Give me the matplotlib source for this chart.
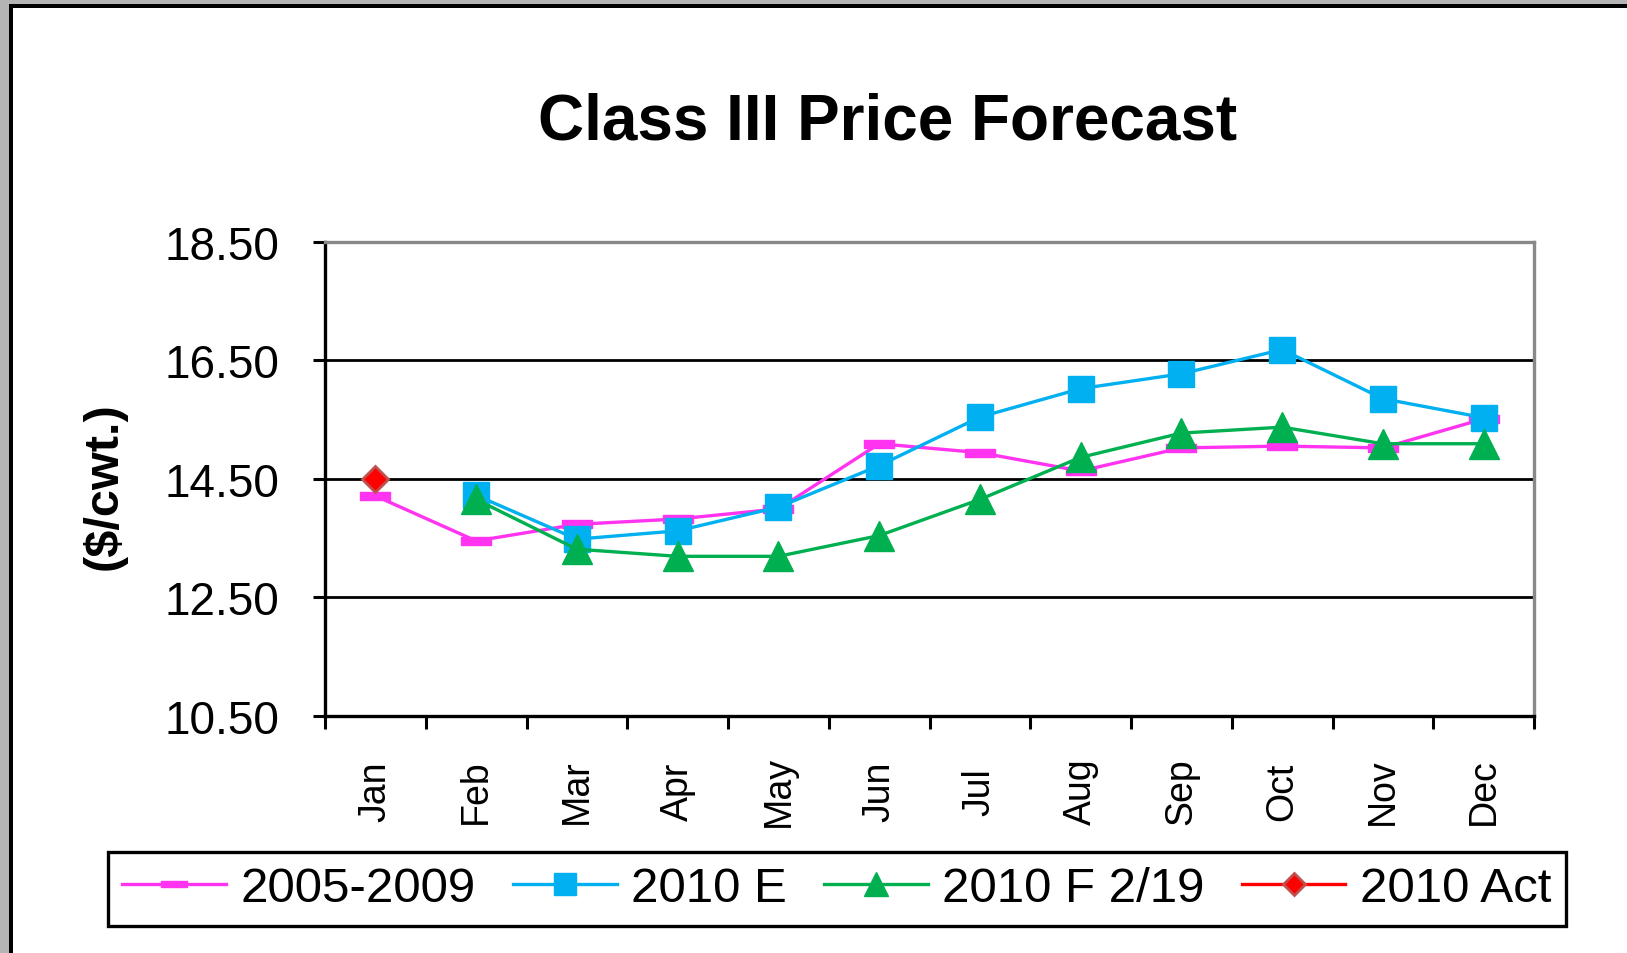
import numpy as np
import matplotlib
matplotlib.use("Agg")
import matplotlib.pyplot as plt
from matplotlib.patches import Rectangle

plt.rcParams['font.family'] = ['Liberation Sans', 'DejaVu Sans']

months = ['Jan', 'Feb', 'Mar', 'Apr', 'May', 'Jun', 'Jul', 'Aug', 'Sep', 'Oct', 'Nov', 'Dec']
avg_2005_2009 = [14.21, 13.45, 13.73, 13.82, 13.99, 15.09, 14.94, 14.63, 15.02, 15.05, 15.02, 15.51]
est_2010 = [np.nan, 14.22, 13.48, 13.62, 14.02, 14.72, 15.54, 16.02, 16.27, 16.68, 15.85, 15.53]
fcst_2010_0219 = [np.nan, 14.15, 13.31, 13.19, 13.19, 13.54, 14.15, 14.86, 15.27, 15.37, 15.09, 15.09]
act_2010 = [14.50] + [np.nan] * 11
series_labels = ['2005-2009', '2010 E', '2010 F 2/19', '2010 Act']
yticks = [10.5, 12.5, 14.5, 16.5, 18.5]

W, H = 1627, 954
fig = plt.figure(figsize=(W / 100, H / 100), dpi=100)
fig.patch.set_facecolor('white')

# outer frame
fig.patches.append(Rectangle((0, 1 - 5 / H), 1, 5 / H, transform=fig.transFigure,
                             facecolor='#b4b4b4', edgecolor='none', zorder=-5))
fig.patches.append(Rectangle((0, 0), 9 / W, 1, transform=fig.transFigure,
                             facecolor='#b4b4b4', edgecolor='none', zorder=-5))
fig.patches.append(Rectangle((9 / W, 1 - 8.5 / H), 1, 3.5 / H, transform=fig.transFigure,
                             facecolor='black', edgecolor='none', zorder=-4))
fig.patches.append(Rectangle((9 / W, 0), 3.5 / W, 1 - 5 / H, transform=fig.transFigure,
                             facecolor='black', edgecolor='none', zorder=-4))

left, right = 325 / W, 1534 / W
top, bottom = 1 - 242.7 / H, 1 - 716.7 / H
ax = fig.add_axes([left, bottom, right - left, top - bottom])

x = np.arange(len(months))
rect_marker = [(-2, -0.5), (2, -0.5), (2, 0.5), (-2, 0.5), (-2, -0.5)]

ax.plot(x, avg_2005_2009, color='#ff33f0', lw=2.4, marker=rect_marker, ms=22,
        mfc='#ff33f0', mec='#ff33f0', label=series_labels[0], zorder=3)
ax.plot(x, est_2010, color='#00b0f0', lw=2.4, marker='s', ms=19,
        mfc='#00b0f0', mec='#00b0f0', label=series_labels[1], zorder=4)
ax.plot(x, fcst_2010_0219, color='#00b050', lw=2.4, marker='^', ms=21,
        mfc='#00b050', mec='#00b050', label=series_labels[2], zorder=5)
ax.plot(x, act_2010, color='#ff0000', lw=2.4, marker='D', ms=13,
        mfc='#ff0000', mec='#c0504d', mew=2.0, label=series_labels[3], zorder=6)

ax.set_xlim(-0.5, 11.5)
ax.set_ylim(10.5, 18.5)
ax.set_yticks(yticks)
ax.set_yticklabels(['%.2f' % v for v in yticks], fontsize=33)
ax.tick_params(axis='y', direction='out', length=9, width=2.2, pad=24, colors='black')

ax.set_xticks(np.arange(-0.5, 12, 1))
ax.set_xticklabels([])
ax.tick_params(axis='x', which='major', direction='out', length=9.5, width=2.2)
ax.set_xticks(x, minor=True)
ax.set_xticklabels(months, minor=True, rotation=90, fontsize=27)
ax.tick_params(axis='x', which='minor', length=0, pad=54)
for lab in ax.get_xticklabels(minor=True):
    lab.set_verticalalignment('center')

ax.grid(axis='y', color='black', lw=2.0)
ax.set_axisbelow(True)

for s in ['left', 'bottom']:
    ax.spines[s].set_color('black')
    ax.spines[s].set_linewidth(2.4)
for s in ['top', 'right']:
    ax.spines[s].set_color('#888888')
    ax.spines[s].set_linewidth(2.4)

fig.text(888 / W, 1 - 122 / H, 'Class III Price Forecast', fontsize=46,
         fontweight='bold', ha='center', va='center')
fig.text(104 / W, 1 - 486 / H, '(\\$/cwt.)', fontsize=35, fontweight='bold',
         rotation=90, ha='center', va='center')

leg = fig.legend(loc='center', bbox_to_anchor=(837 / W, 1 - 890 / H), ncol=4,
                 fontsize=35.5, frameon=True, fancybox=False, framealpha=1,
                 edgecolor='black', handlelength=2.1, handletextpad=0.3,
                 columnspacing=0.75, markerscale=0.85, borderpad=0.3,
                 borderaxespad=0)
leg.get_frame().set_linewidth(2.4)

fig.savefig('out.png', dpi=100, facecolor='white')
